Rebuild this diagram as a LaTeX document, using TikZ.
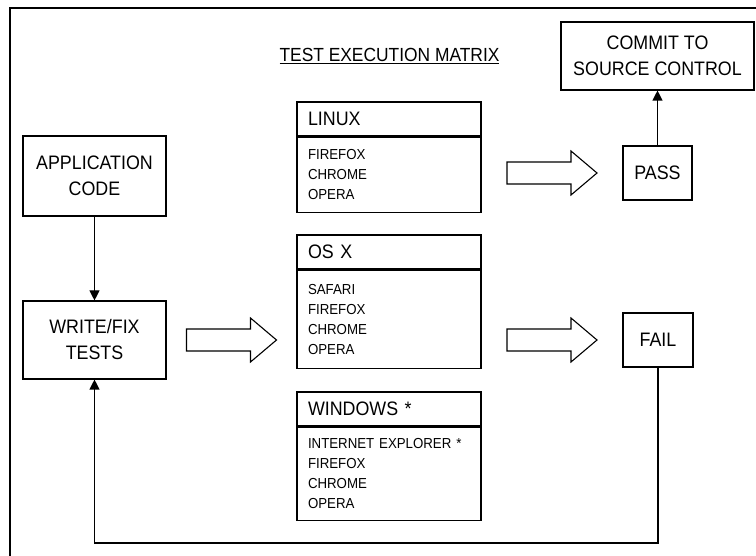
\documentclass[tikz,border=0pt]{standalone}
\usepackage{fontspec}
\setmainfont[FakeStretch=0.915]{Liberation Sans}
\usetikzlibrary{arrows.meta, calc}

\tikzset{
  box/.style={draw, line width=1.1pt, align=center, inner sep=0pt, font=\fontsize{19.5}{26}\selectfont},
  oshead/.style={draw, line width=1.1pt, minimum width=184pt, minimum height=34pt, text width=162pt, inner sep=0pt, align=left, font=\fontsize{19.5}{24}\selectfont},
  oslist/.style={draw, line width=1.1pt, minimum width=184pt, text width=162pt, inner sep=0pt, align=left, anchor=north, font=\fontsize{14.5}{20}\selectfont},
  link/.style={line width=1.1pt, -{Triangle[width=10pt,length=10pt]}},
}
\newcommand\fatarrow[1]{\draw[line width=1.1pt] (#1) ++(-45,-11) -- ++(64,0) -- ++(0,-11) -- ++(26,22) -- ++(-26,22) -- ++(0,-11) -- ++(-64,0) -- cycle;}

\begin{document}
\begin{tikzpicture}[x=1pt, y=-1pt]
  \fill[white] (0,0) rectangle (756,556);
  \useasboundingbox (0,0) rectangle (756,556);
  \draw[line width=1.1pt] (10,600) -- (10,8) -- (800,8);

  \node[box, minimum width=143pt, minimum height=80pt] (app) at (94.5,176) {APPLICATION\\CODE};
  \node[box, minimum width=143pt, minimum height=78pt] (write) at (94.5,340) {WRITE/FIX\\TESTS};
  \node[box, minimum width=193pt, minimum height=68pt] (commit) at (657.5,56) {COMMIT TO\\SOURCE CONTROL};
  \node[box, minimum width=69pt, minimum height=54pt] (pass) at (657.5,173) {PASS};
  \node[box, minimum width=70pt, minimum height=54pt] (fail) at (658,340) {FAIL};

  \node[font=\fontsize{19}{24}\selectfont] (title) at (389.5,56) {\underline{TEST EXECUTION MATRIX}};

  \node[oshead] (linux) at (389,119) {LINUX};
  \node[oslist, minimum height=75pt] (linuxlist) at (linux.south) {FIREFOX\\CHROME\\OPERA};
  \node[oshead] (osx) at (389,252) {OS X};
  \node[oslist, minimum height=98pt] (osxlist) at (osx.south) {SAFARI\\FIREFOX\\CHROME\\OPERA};
  \node[oshead] (windows) at (389,409) {WINDOWS *};
  \node[oslist, minimum height=93pt] (windowslist) at (windows.south) {INTERNET EXPLORER *\\FIREFOX\\CHROME\\OPERA};

  \fatarrow{$(write.east)!0.5!(write.east -| osxlist.west)$}
  \fatarrow{$(pass.west -| linuxlist.east)!0.5!(pass.west)$}
  \fatarrow{$(fail.west -| osxlist.east)!0.5!(fail.west)$}

  \coordinate (loop) at (0,543);
  \draw[link] (app) -- (write);
  \draw[link] (pass) -- (commit);
  \draw[link] (fail.south) -- (fail.south |- loop) -| (write.south);
\end{tikzpicture}
\end{document}
